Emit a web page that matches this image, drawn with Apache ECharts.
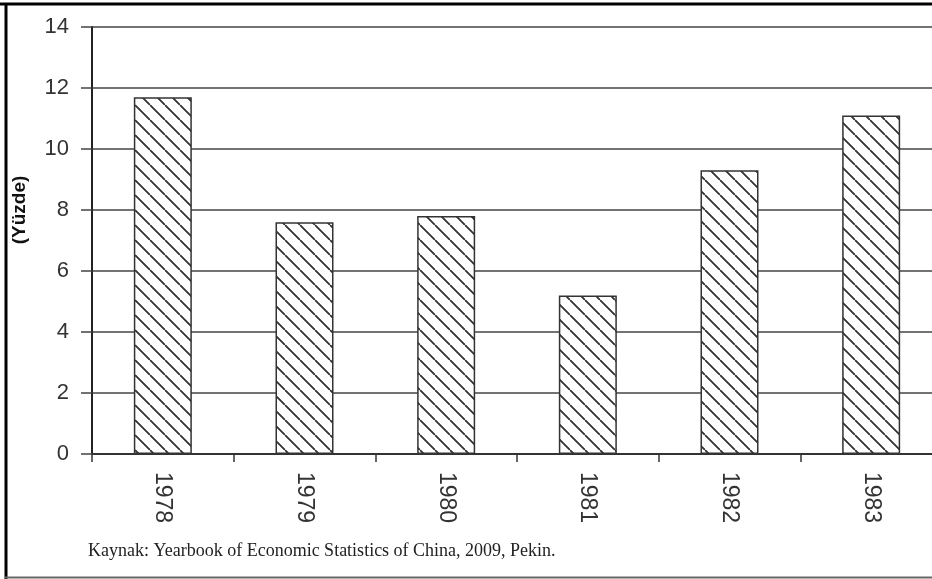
<!DOCTYPE html>
<html>
<head>
<meta charset="utf-8">
<script src="https://cdn.jsdelivr.net/npm/echarts@6/dist/echarts.min.js"></script>
<style>
html,body{margin:0;padding:0;background:#fff;overflow:hidden;width:932px;height:579px;}
#chart{width:946px;height:579px;}
</style>
</head>
<body>
<div id="chart"></div>
<script>
const categories = ['1978', '1979', '1980', '1981', '1982', '1983'];
const values = [11.7, 7.6, 7.8, 5.2, 9.3, 11.1];
const yTicks = [0, 2, 4, 6, 8, 10, 12, 14];
const yAxisTitle = '(Yüzde)';
const sourceText = 'Kaynak: Yearbook of Economic Statistics of China, 2009, Pekin.';

function hatch() {
  const s = 15;
  const c = document.createElement('canvas');
  c.width = s; c.height = s;
  const g = c.getContext('2d');
  g.fillStyle = '#fff';
  g.fillRect(0, 0, s, s);
  g.strokeStyle = '#333';
  g.lineWidth = 1.4;
  const segs = [[-s, 0, 0, s], [0, 0, s, s], [0, -s, s, 0], [-2, -2, s + 2, s + 2]];
  segs.forEach(([a, b, c2, d]) => { g.beginPath(); g.moveTo(a, b); g.lineTo(c2, d); g.stroke(); });
  return c;
}

const chart = echarts.init(document.getElementById('chart'), null, {renderer: 'canvas'});
const option = {
  animation: false,
  grid: {left: 92, top: 27, width: 850, height: 427, containLabel: false},
  xAxis: {
    type: 'category',
    data: categories,
    axisLine: {show: true, lineStyle: {color: '#333', width: 2}},
    axisTick: {show: true, length: 8, lineStyle: {color: '#333', width: 1.5}},
    axisLabel: {rotate: -90, margin: 18, fontSize: 23, color: '#333', fontFamily: 'Liberation Sans'}
  },
  yAxis: {
    type: 'value',
    min: yTicks[0],
    max: yTicks[yTicks.length - 1],
    interval: 2,
    axisLine: {show: true, lineStyle: {color: '#222', width: 2}},
    axisTick: {show: true, length: 11, lineStyle: {color: '#444', width: 1.5}},
    axisLabel: {margin: 23, fontSize: 22, color: '#333', fontFamily: 'Liberation Sans'},
    splitLine: {show: true, lineStyle: {color: '#444', width: 1.5}}
  },
  series: [{
    type: 'bar',
    data: values,
    barWidth: 58,
    itemStyle: {
      color: {image: hatch(), repeat: 'repeat'},
      borderColor: '#333',
      borderWidth: 1.5
    }
  }],
  graphic: [
    {type: 'text', x: 20, y: 210, rotation: Math.PI / 2,
     style: {text: yAxisTitle, fontSize: 19, fontWeight: 'bold', fontFamily: 'Liberation Sans', fill: '#111', align: 'center', verticalAlign: 'middle'}},
    {type: 'text', left: 88, top: 542,
     style: {text: sourceText, fontSize: 18, fontFamily: 'Liberation Serif', fill: '#222'}},
    {type: 'line', shape: {x1: 0, y1: 4, x2: 946, y2: 4}, style: {stroke: '#000', lineWidth: 3}},
    {type: 'line', shape: {x1: 6, y1: 3, x2: 6, y2: 579}, style: {stroke: '#000', lineWidth: 3}},
    {type: 'line', shape: {x1: 5, y1: 577.5, x2: 946, y2: 577.5}, style: {stroke: '#666', lineWidth: 2}}
  ]
};
chart.setOption(option);
</script>
</body>
</html>
